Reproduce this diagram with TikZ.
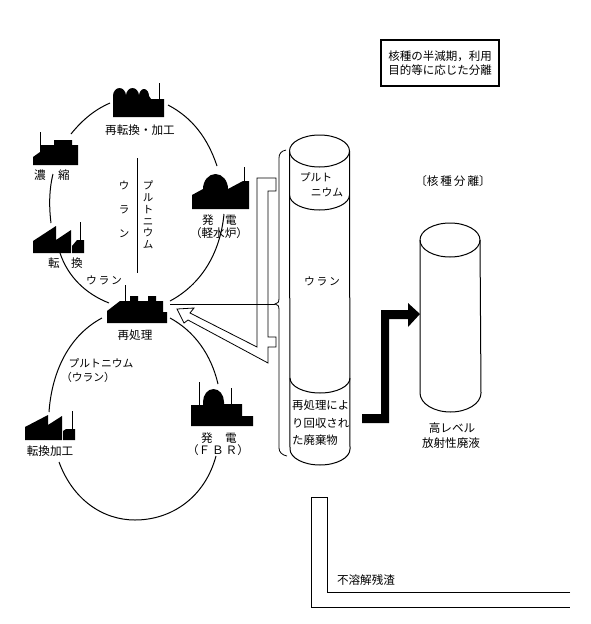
\documentclass[tikz,border=0pt]{standalone}
\usepackage{fontspec}
\setmainfont{Noto Sans CJK JP}
\usetikzlibrary{positioning}
\tikzset{
    label/.style={inner sep=0pt, font=\fontsize{11.6}{14}\selectfont, align=center},
    small/.style={label, font=\fontsize{10.8}{12}\selectfont},
    cycle/.style={line width=1pt},
    thin line/.style={line width=0.8pt},
    plant/.style={fill=black, draw=none},
    stack/.style={line width=1pt},
}
\begin{document}
\begin{tikzpicture}[x=1pt, y=-1pt]
\useasboundingbox (0,0) rectangle (590,624);

% plants
\fill[plant] (113,117) -- (113,96) arc[start angle=180, end angle=360, x radius=6.5, y radius=8]
    arc[start angle=180, end angle=360, x radius=6.5, y radius=8]
    arc[start angle=180, end angle=360, x radius=5, y radius=7] -- (151,99) -- (164,99) -- (164,117) -- cycle;
\draw[stack] (159.5,99) -- (159.5,83);
\fill[plant] (33,165) -- (33,157) -- (40,152) -- (40,145) -- (54,145) -- (54,140) -- (72,140) -- (72,145) -- (78,145) -- (78,165) -- cycle;
\draw[stack] (40.7,146) -- (40.7,132);
\fill[plant] (33,253) -- (33,241) -- (56,226) -- (56,240) -- (71,230) -- (71,253) -- cycle;
\fill[plant] (72,253) -- (72,246) -- (77,240) -- (84,240) -- (84,253) -- cycle;
\draw[stack] (80.5,241) -- (80.5,222);
\fill[plant] (192,209) -- (192,195) -- (203,189) arc[start angle=180, end angle=360, x radius=12.5, y radius=15] -- (243,181) -- (249,181) -- (249,209) -- cycle;
\draw[stack] (244,182) -- (244,167);
\fill[plant] (107,323) -- (107,311) -- (120,301) -- (130,301) -- (130,296) -- (138,296) -- (138,301) -- (148,301) -- (148,296) -- (156,296) -- (156,301) -- (163,301) -- (163,312) -- (167,312) -- (167,323) -- cycle;
\draw[stack] (125,302) -- (125,285);
\fill[plant] (25,440) -- (25,427) -- (48,415) -- (48,425) -- (62,416) -- (62,440) -- cycle;
\fill[plant] (63,440) -- (63,431) -- (66,429) -- (75,429) -- (75,440) -- cycle;
\draw[stack] (72,430) -- (72,411);
\fill[plant] (191,426) -- (191,405) -- (203,405) -- (203,402) arc[start angle=180, end angle=360, x radius=10.5, y radius=13] -- (224,404) -- (242,404) -- (242,416) -- (253,416) -- (253,426) -- cycle;
\draw[stack] (199,406) -- (199,382);
\draw[stack] (231,406) -- (231,388);

% flows
\coordinate (divtop) at (137,158);
\coordinate (divbot) at (137,273);
\draw[line width=1pt] (divtop) -- (divbot);
\draw[cycle] (71,134) .. controls (83,119) and (96,109) .. (110,103);
\draw[cycle] (168,105) .. controls (193,118) and (208,139) .. (217,166);
\draw[cycle] (53,174) .. controls (49,190) and (49,207) .. (51,223);
\draw[cycle] (60,253) .. controls (68,277) and (86,294) .. (109,303);
\draw[cycle] (224,214) .. controls (220,255) and (200,285) .. (170,301);
\draw[cycle] (102,318) .. controls (70,335) and (52,370) .. (49,412);
\draw[cycle] (170,318) .. controls (194,331) and (211,354) .. (218,384);
\draw[cycle] (59,462) .. controls (73,500) and (103,520) .. (135,520) .. controls (172,520) and (205,497) .. (216,456);

% labels of the plants
\node[label] (reconv) at (140,130) {再転換・加工};
\node[label] (enrich) at (40,175) {濃};
\node[label] (enrich2) at (64,175) {縮};
\node[label] (conv) at (54,263) {転};
\node[label] (conv2) at (77,263) {換};
\node[label] (lwr) at (208,220) {発};
\node[label] (lwr2) at (231,220) {電};
\node[label] (lwr3) at (219,233) {（軽水炉）};
\node[label] (rep) at (135,335) {再処理};
\node[label] (fab) at (50,451) {転換加工};
\node[label] (fbr) at (207,438) {発};
\node[label] (fbr2) at (231,438) {電};
\node[label] (fbr3) at (218,450) {（Ｆ\,Ｂ\,Ｒ）};

\node[label, font=\fontsize{10.5}{24}\selectfont] (ura) at (124,209) {ウ\\ラ\\ン};
\node[label, font=\fontsize{10.5}{11.7}\selectfont] (pu) at (148,215) {プ\\ル\\ト\\ニ\\ウ\\ム};
\node[small] (ura2) at (104,280) {ウ\,ラ\,ン};
\node[small] (pu2) at (101,363) {プルトニウム};
\node[small] (ura3) at (88,377) {（ウラン）};

% main column
\draw[line width=1pt] (289.5,151) arc[start angle=180, end angle=-180, x radius=30, y radius=16];
\draw[line width=1pt] (289.5,151) -- (290,449) arc[start angle=180, end angle=0, x radius=30, y radius=16] -- (349.5,151);
\draw[line width=1pt] (289.5,195) arc[start angle=180, end angle=0, x radius=30, y radius=15];
\draw[line width=1pt] (290,378) arc[start angle=180, end angle=0, x radius=30, y radius=15];
\node[small] (col1) at (316,177) {プルト};
\node[small] (col2) at (327,192) {ニウム};
\node[small] (col3) at (322,281) {ウ\,ラ\,ン};
\node[label, font=\fontsize{11.4}{17.5}\selectfont, align=left, anchor=north west] (col4) at (292,400) {再処理によ\\り回収され\\た廃棄物};

% brace and return arrow
\coordinate (brtip) at (275,304);
\draw[thin line] (286,150) .. controls (281,151) and (279,154) .. (279,158) -- (279,298) .. controls (279,302) and (278,304) .. (brtip)
    .. controls (278,304) and (279,306) .. (279,310) -- (279,448) .. controls (279,452) and (282,455) .. (287,456);
\coordinate (repout) at (170,304);
\draw[thin line] (repout) -- (brtip);
\draw[thin line, line join=miter] (276,178) -- (257,178) -- (257,347) -- (190,313) -- (194,308) -- (177,309) -- (184,323) -- (188,320) -- (268,363) -- (268,347)
    -- (276,347) -- (276,337) -- (268,337) -- (268,191) -- (276,191) -- cycle;

% right column
\draw[line width=1pt] (420,240) arc[start angle=180, end angle=-180, x radius=30, y radius=17];
\draw[line width=1pt] (420,240) -- (420,393) arc[start angle=180, end angle=0, x radius=30.5, y radius=19] -- (480,240);
\node[label] (hlw) at (452,428) {高レベル};
\node[label] (hlw2) at (451,443) {放射性廃液};
\fill[black] (362,414) -- (381,414) -- (381,310) -- (408,310) -- (408,303) -- (420,314) -- (408,327) -- (408,319) -- (389,319) -- (389,423) -- (362,423) -- cycle;
\node[label] (sep) at (453,181) {〔核\,種\,分\,離〕};

% note
\node[draw, line width=1.1pt, minimum width=118pt, minimum height=46pt, inner sep=0pt, align=center, font=\fontsize{11.5}{14}\selectfont] (note) at (440,63) {核種の半減期，利用\\目的等に応じた分離};

% residue channel
\node[label] (res) at (366,580) {不溶解残渣};
\coordinate (ch1) at (570,592);
\coordinate (ch2) at (570,607);
\draw[thin line] (ch1) -- (327,592) -- (327,497) -- (311,497) -- (311,607) -- (ch2);
\end{tikzpicture}
\end{document}
